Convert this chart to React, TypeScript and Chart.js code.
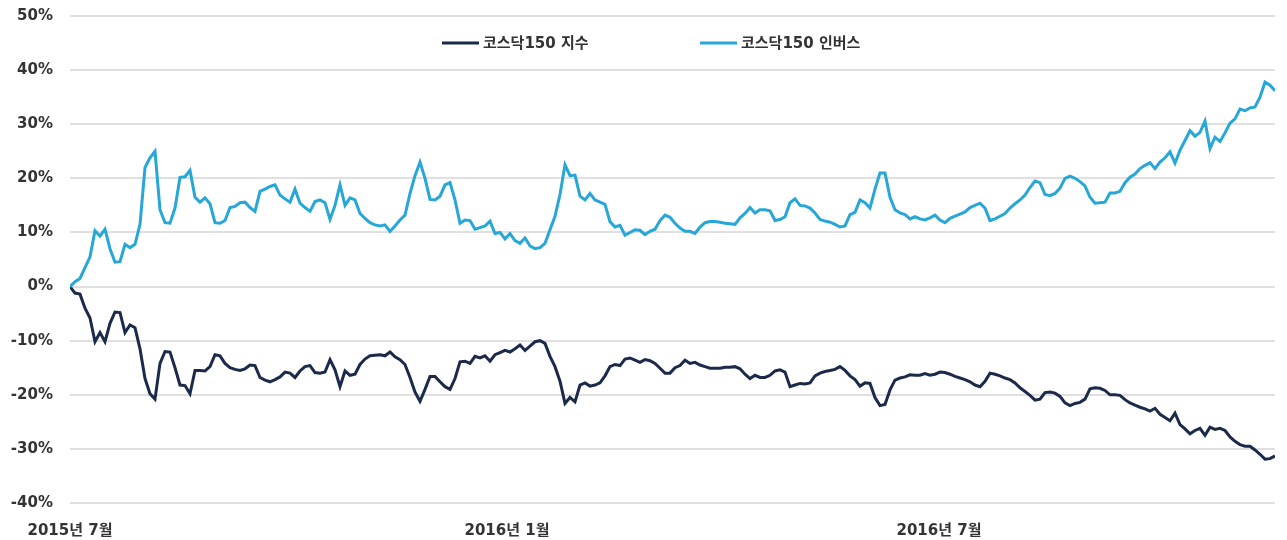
import React, { useEffect, useRef } from "react";
import { Chart, registerables } from "chart.js";

Chart.register(...registerables);

const seriesNames = ["코스닥150 지수", "코스닥150 인버스"];

const indexVals = [
  0, -1.2, -1.4, -4, -5.8, -10.2, -8.5, -10.2, -6.8, -4.7,
  -4.8, -8.5, -7.1, -7.6, -11.5, -17, -19.8, -20.8, -14.2, -12,
  -12.1, -15, -18.2, -18.3, -19.8, -15.5, -15.5, -15.6, -14.8, -12.6,
  -12.8, -14.2, -15, -15.3, -15.5, -15.2, -14.5, -14.6, -16.8, -17.3,
  -17.6, -17.2, -16.7, -15.8, -16, -16.8, -15.6, -14.8, -14.6, -15.9,
  -16, -15.8, -13.5, -15.4, -18.5, -15.6, -16.4, -16.2, -14.4, -13.4,
  -12.8, -12.7, -12.6, -12.8, -12.1, -13, -13.5, -14.4, -16.8, -19.5,
  -21.2, -19, -16.6, -16.6, -17.6, -18.5, -19, -17, -13.9, -13.8,
  -14.2, -12.9, -13.2, -12.8, -13.8, -12.6, -12.2, -11.8, -12.1, -11.5,
  -10.8, -11.8, -11, -10.2, -10, -10.5, -12.9, -14.8, -17.5, -21.6,
  -20.5, -21.3, -18.2, -17.8, -18.4, -18.2, -17.8, -16.5, -14.8, -14.4,
  -14.6, -13.4, -13.2, -13.6, -14, -13.5, -13.7, -14.2, -15.1, -16,
  -16, -15, -14.6, -13.6, -14.2, -14, -14.5, -14.8, -15.1, -15.1,
  -15.1, -14.9, -14.9, -14.8, -15.2, -16.2, -17, -16.4, -16.8, -16.8,
  -16.4, -15.6, -15.4, -15.8, -18.5, -18.2, -17.9, -18, -17.8, -16.5,
  -16, -15.7, -15.5, -15.3, -14.8, -15.5, -16.5, -17.2, -18.4, -17.8,
  -17.9, -20.5, -22, -21.8, -19.1, -17.3, -16.9, -16.7, -16.3, -16.4,
  -16.4, -16.1, -16.4, -16.2, -15.8, -15.9, -16.2, -16.6, -16.9, -17.2,
  -17.6, -18.2, -18.5, -17.5, -16, -16.2, -16.5, -16.9, -17.2, -17.8,
  -18.7, -19.4, -20.1, -21, -20.8, -19.6, -19.5, -19.7, -20.3, -21.5,
  -22, -21.6, -21.4, -20.8, -18.9, -18.7, -18.8, -19.2, -20, -20,
  -20.1, -20.9, -21.5, -21.9, -22.3, -22.6, -23, -22.5, -23.6, -24.2,
  -24.8, -23.4, -25.5, -26.3, -27.2, -26.6, -26.2, -27.5, -26, -26.4,
  -26.2, -26.6, -27.8, -28.6, -29.2, -29.5, -29.5, -30.2, -31, -31.9,
  -31.8, -31.3,
];

const inverseVals = [
  0, 0.9, 1.5, 3.5, 5.5, 10.3, 9.3, 10.6, 7, 4.5,
  4.6, 7.8, 7.2, 7.8, 11.5, 22, 23.8, 25, 14.2, 11.8,
  11.7, 14.5, 20.2, 20.3, 21.5, 16.5, 15.6, 16.4, 15.3, 11.8,
  11.7, 12.2, 14.6, 14.8, 15.5, 15.6, 14.6, 13.9, 17.6, 18,
  18.5, 18.8, 16.9, 16.2, 15.6, 18, 15.4, 14.6, 13.9, 15.7,
  16, 15.5, 12.4, 15, 18.8, 15, 16.4, 16, 13.5, 12.6,
  11.8, 11.4, 11.2, 11.4, 10.2, 11.2, 12.3, 13.2, 17.2, 20.5,
  23, 20, 16.1, 16, 16.7, 18.8, 19.2, 16, 11.7, 12.3,
  12.2, 10.6, 10.9, 11.2, 12.1, 9.8, 10, 8.8, 9.8, 8.5,
  8, 9, 7.5, 7, 7.2, 8, 10.5, 13, 17, 22.5,
  20.5, 20.6, 16.7, 16, 17.2, 16, 15.6, 15.2, 12, 11,
  11.3, 9.5, 10, 10.5, 10.4, 9.6, 10.2, 10.6, 12.2, 13.2,
  12.8, 11.7, 10.8, 10.2, 10.2, 9.8, 11, 11.8, 12, 12,
  11.9, 11.7, 11.6, 11.5, 12.7, 13.5, 14.6, 13.6, 14.2, 14.2,
  14, 12.2, 12.4, 12.9, 15.5, 16.2, 15, 14.9, 14.5, 13.6,
  12.4, 12.1, 11.9, 11.5, 11, 11.2, 13.3, 13.7, 16, 15.5,
  14.5, 18, 21, 21, 16.5, 14.2, 13.6, 13.3, 12.5, 12.9,
  12.5, 12.3, 12.7, 13.2, 12.3, 11.8, 12.6, 13, 13.4, 13.8,
  14.6, 15, 15.4, 14.5, 12.2, 12.5, 13, 13.5, 14.5, 15.3,
  16, 16.9, 18.3, 19.5, 19.2, 17, 16.8, 17.2, 18.2, 20,
  20.4, 20, 19.4, 18.6, 16.5, 15.4, 15.5, 15.6, 17.3, 17.3,
  17.6, 19.2, 20.2, 20.8, 21.8, 22.4, 22.9, 21.8, 23, 23.8,
  24.9, 22.8, 25.2, 27, 28.8, 27.8, 28.5, 30.6, 25.5, 27.6,
  26.8, 28.4, 30.2, 31, 32.8, 32.5, 33, 33.2, 35, 37.8,
  37.2, 36.2,
];

const xTickPositions = [0, 87.4, 173.8];
const xTickLabels = ["2015년 7월", "2016년 1월", "2016년 7월"];

const yMin = -40;
const yMax = 50;
const yStep = 10;

const COLORS = ["#1b2a4a", "#27a6d8"];
const FONT = "'DejaVu Sans', 'Noto Sans CJK KR', sans-serif";
const TEXT_COLOR = "#333333";

const legendPlugin = {
  id: "customLegend",
  afterDraw(chart: any) {
    const ctx = chart.ctx;
    const starts = [442, 700];
    const y = 43;
    ctx.save();
    seriesNames.forEach((name, i) => {
      const x = starts[i];
      ctx.strokeStyle = COLORS[i];
      ctx.lineWidth = 3;
      ctx.beginPath();
      ctx.moveTo(x, y);
      ctx.lineTo(x + 37, y);
      ctx.stroke();
      ctx.fillStyle = TEXT_COLOR;
      ctx.font = `bold 15px ${FONT}`;
      ctx.textBaseline = "middle";
      ctx.textAlign = "left";
      ctx.fillText(name, x + 41, y + 1);
    });
    ctx.restore();
  },
};

export default function App() {
  const canvasRef = useRef<HTMLCanvasElement | null>(null);

  useEffect(() => {
    if (!canvasRef.current) return;
    const chart = new Chart(canvasRef.current, {
      type: "line",
      data: {
        datasets: [
          {
            label: seriesNames[0],
            data: indexVals.map((v, i) => ({ x: i, y: v })),
            borderColor: COLORS[0],
            backgroundColor: COLORS[0],
            borderWidth: 3,
            pointRadius: 0,
            tension: 0,
            order: 2,
          },
          {
            label: seriesNames[1],
            data: inverseVals.map((v, i) => ({ x: i, y: v })),
            borderColor: COLORS[1],
            backgroundColor: COLORS[1],
            borderWidth: 3,
            pointRadius: 0,
            tension: 0,
            order: 1,
          },
        ],
      },
      options: {
        animation: false,
        responsive: false,
        devicePixelRatio: 1,
        layout: { padding: { left: 0, right: 12, top: 16, bottom: 0 } },
        plugins: {
          legend: { display: false },
          tooltip: { enabled: false },
        },
        scales: {
          x: {
            type: "linear",
            min: 0,
            max: indexVals.length - 1,
            grid: { display: false, drawTicks: false },
            border: { display: false },
            afterBuildTicks: (scale: any) => {
              scale.ticks = xTickPositions.map((v) => ({ value: v }));
            },
            afterFit: (scale: any) => {
              scale.height = 37;
              scale.paddingLeft = 0;
              scale.paddingRight = 0;
            },
            ticks: {
              autoSkip: false,
              maxRotation: 0,
              padding: 19,
              color: TEXT_COLOR,
              font: { family: FONT, size: 15, weight: "bold" },
              callback: (_v: any, idx: number) => xTickLabels[idx],
            },
          },
          y: {
            min: yMin,
            max: yMax,
            grid: { color: "#e0e0e0", lineWidth: 2, drawTicks: false },
            border: { display: false },
            afterFit: (scale: any) => {
              scale.width = 70;
              scale.paddingTop = 0;
              scale.paddingBottom = 0;
            },
            ticks: {
              stepSize: yStep,
              padding: 17,
              color: TEXT_COLOR,
              font: { family: FONT, size: 15, weight: "bold" },
              callback: (v: any) => `${v}%`,
            },
          },
        },
      },
      plugins: [legendPlugin],
    });
    return () => chart.destroy();
  }, []);

  return (
    <div style={{ position: "absolute", left: 0, top: 0, width: 1287, height: 540, background: "#fff" }}>
      <canvas ref={canvasRef} width={1287} height={540} />
    </div>
  );
}
